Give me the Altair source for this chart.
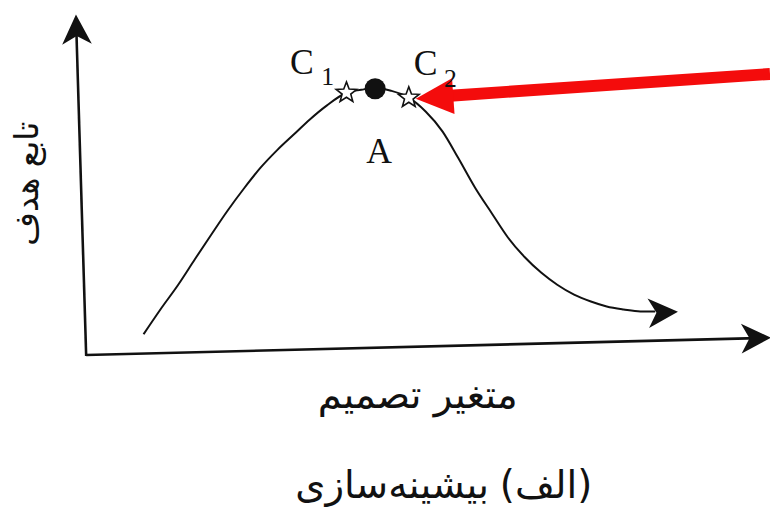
import math
import altair as alt
import pandas as pd

# ---- data (page pixel units) ----
curve_x = [145, 162, 180, 197, 213, 230, 247, 263, 280, 297, 313, 330, 350, 365, 379, 395, 413,
           430, 447, 463, 480, 497, 513, 530, 547, 563, 580, 597, 613, 630, 647, 662]
curve_y = [335, 310, 285, 259, 235, 210, 187, 167, 149, 133, 118, 104, 91, 88, 86, 89, 96,
           110, 130, 157, 187, 213, 237, 257, 273, 285, 295, 302, 307, 310, 312, 312]

star_x = [350, 413]
star_y = [91, 96]
opt_x = [379]
opt_y = [87]

axis_x1 = [87, 87]
axis_y1 = [357, 356]
axis_x2 = [77, 765]
axis_y2 = [25, 339]

head_x = [77.2, 764, 670]
head_y = [27, 339, 313]
head_angle = [268, 358.5, 357]

red_x1, red_y1, red_x2, red_y2 = [778], [72], [455], [94]
red_head_x, red_head_y, red_head_angle = [439], [95.7], [176]

c_text = ["C", "C"]
c_x = [305, 430]
c_y = [72, 73]
sub_text = ["1", "2"]
sub_x = [331, 455]
sub_y = [83, 85]
a_text = ["A"]
a_x = [383]
a_y = [162]

xlabel = "متغیر تصمیم"
ylabel = "تابع هدف"
caption_tag = "(الف)"
caption_word = "بیشینه\u200cسازی"

W, H = 770, 500
XS = alt.Scale(domain=[8, 8 + W], nice=False, zero=False)
YS = alt.Scale(domain=[8, 8 + H], nice=False, zero=False, reverse=True)


def X(f):
    return alt.X(f, type="quantitative", scale=XS, axis=None)


def Y(f):
    return alt.Y(f, type="quantitative", scale=YS, axis=None)


# star path
pts = []
for k in range(10):
    r = 1.0 if k % 2 == 0 else 0.42
    a = math.radians(-90 + 36 * k)
    pts.append(f"{r*math.cos(a):.3f},{r*math.sin(a):.3f}")
STAR = "M" + " L".join(pts) + " Z"
NOTCH = "M1,0 L-1,-1 L-0.45,0 L-1,1 Z"
TRI = "M1,0 L-1,-0.95 L-1,0.95 Z"

curve = alt.Chart(pd.DataFrame({"x": curve_x, "y": curve_y})).mark_line(
    color="#111", strokeWidth=2, interpolate="monotone"
).encode(x=X("x"), y=Y("y"))

axes = alt.Chart(pd.DataFrame({"x": axis_x1, "y": axis_y1, "x2": axis_x2, "y2": axis_y2})).mark_rule(
    color="#111", strokeWidth=2.6
).encode(x=X("x"), y=Y("y"), x2="x2", y2="y2")

heads = alt.Chart(pd.DataFrame({"x": head_x, "y": head_y, "a": head_angle})).mark_point(
    shape=NOTCH, size=900, filled=True, color="#111", opacity=1
).encode(x=X("x"), y=Y("y"), angle=alt.Angle("a:Q", scale=None))

stars = alt.Chart(pd.DataFrame({"x": star_x, "y": star_y})).mark_point(
    shape=STAR, size=480, filled=True, fill="white", stroke="#111", strokeWidth=1.6, opacity=1
).encode(x=X("x"), y=Y("y"))

dot = alt.Chart(pd.DataFrame({"x": opt_x, "y": opt_y})).mark_point(
    shape="circle", size=452, filled=True, color="#111", opacity=1
).encode(x=X("x"), y=Y("y"))

red_shaft = alt.Chart(pd.DataFrame({"x": red_x1, "y": red_y1, "x2": red_x2, "y2": red_y2})).mark_rule(
    color="#f40c0c", strokeWidth=12, strokeCap="butt"
).encode(x=X("x"), y=Y("y"), x2="x2", y2="y2")

red_head = alt.Chart(pd.DataFrame({"x": red_head_x, "y": red_head_y, "a": red_head_angle})).mark_point(
    shape=TRI, size=1444, filled=True, color="#f40c0c", opacity=1
).encode(x=X("x"), y=Y("y"), angle=alt.Angle("a:Q", scale=None))

c_lbl = alt.Chart(pd.DataFrame({"x": c_x, "y": c_y, "t": c_text})).mark_text(
    font="Liberation Serif", fontSize=36, baseline="alphabetic", align="center", color="#111"
).encode(x=X("x"), y=Y("y"), text="t:N")

sub_lbl = alt.Chart(pd.DataFrame({"x": sub_x, "y": sub_y, "t": sub_text})).mark_text(
    font="Liberation Serif", fontSize=26, baseline="alphabetic", align="center", color="#111"
).encode(x=X("x"), y=Y("y"), text="t:N")

a_lbl = alt.Chart(pd.DataFrame({"x": a_x, "y": a_y, "t": a_text})).mark_text(
    font="Liberation Serif", fontSize=36, baseline="alphabetic", align="center", color="#111"
).encode(x=X("x"), y=Y("y"), text="t:N")

fa = "DejaVu Sans"
xl = alt.Chart(pd.DataFrame({"x": [422], "y": [410], "t": [xlabel]})).mark_text(
    font=fa, fontSize=39, baseline="alphabetic", align="center", color="#111"
).encode(x=X("x"), y=Y("y"), text="t:N")

yl = alt.Chart(pd.DataFrame({"x": [28], "y": [183], "t": [ylabel]})).mark_text(
    font=fa, fontSize=33, baseline="middle", align="center", angle=270, color="#111"
).encode(x=X("x"), y=Y("y"), text="t:N")

cap_w = alt.Chart(pd.DataFrame({"x": [494], "y": [501], "t": [caption_word]})).mark_text(
    font=fa, fontSize=39, baseline="alphabetic", align="right", color="#111"
).encode(x=X("x"), y=Y("y"), text="t:N")

cap_t = alt.Chart(pd.DataFrame({"x": [505], "y": [501], "t": [caption_tag]})).mark_text(
    font=fa, fontSize=39, baseline="alphabetic", align="left", color="#111"
).encode(x=X("x"), y=Y("y"), text="t:N")

chart = alt.layer(
    axes, curve, heads, stars, dot, red_shaft, red_head, c_lbl, sub_lbl, a_lbl, xl, yl, cap_w, cap_t
).properties(width=W, height=H, padding=0, autosize="none", background="white").configure_view(stroke=None)

chart.save("out.html", embed_options={"renderer": "svg", "actions": False})
